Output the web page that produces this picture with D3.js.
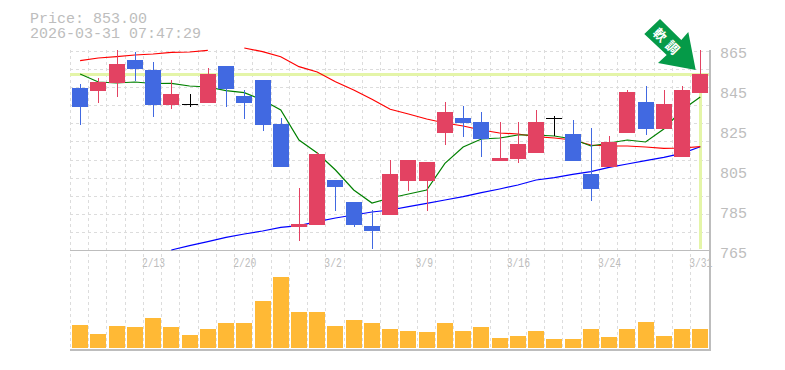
<!DOCTYPE html>
<html>
<head>
<meta charset="utf-8">
<script src="https://cdnjs.cloudflare.com/ajax/libs/d3/7.8.5/d3.min.js"></script>
<style>
  html, body { margin: 0; background: #fff; }
  text { font-family: "Liberation Mono", "DejaVu Sans Mono", monospace; fill: #bdbdbd; }
</style>
</head>
<body>
<svg id="chart" width="785" height="370"></svg>
<script>
const dates = ['2/6','2/9','2/10','2/12','2/13','2/16','2/17','2/18','2/19','2/20','2/24','2/25','2/26','2/27','3/2','3/3','3/4','3/5','3/6','3/9','3/10','3/11','3/12','3/13','3/16','3/17','3/18','3/19','3/23','3/24','3/25','3/26','3/27','3/30','3/31'];
const tickLabels = ['2/13','2/20','3/2','3/9','3/16','3/24','3/31'];
const priceTicks = [865,845,825,805,785,765];

const opens  = [846,844.5,848.5,860,855,837.5,838,838.5,857,842,850,828,776.5,777.5,800,789,777,782.5,799.5,799.5,823.5,831,829,809.5,810.5,813.5,831,823,803,806.5,823.5,839,825.5,811.5,843.5];
const closes = [836.5,849,858,855.5,837.5,843,838,853,845.5,838.5,827.5,806.5,778,813,796.5,777.5,774.5,803,810,809,834,828.5,820.5,811,818,829,831,809.5,795.5,819,844,825.5,838,845,853];
const highs  = [848,851,865,864,859,850,843,856,857,845,850,831,796,814,800,789,785,810,810,809,839,837,834,829,829,835,832,830,826,822,845,847,845,847,865];
const lows   = [827.5,838.5,841.5,849.5,831.5,835.5,836.5,838.5,836.5,830.5,824.5,806.5,769.5,777.5,784.5,776.5,765.5,782.5,794.5,784.5,817.5,821.5,811.5,809.5,808.5,813.5,822,809.5,789.5,806.5,823.5,822.5,825.5,811.5,843.5];
const volumes = [23,14,22,21,30,21,13,19,25,25,47,71,36,36,22,28,25,19,17,16,25,17,21,10,12,17,9,9,19,11,19,26,12,19,19];

const maShort = [853,849,848.5,849,848.25,848.35,847,846.5,844.65,843.65,840,835,820,813.5,805,795,788.5,791,793,795,808.35,816.5,820.5,821,822.5,822.5,822,820.5,817,818.5,820,819,825.5,835,841.5];
const maMid = [859.65,861,861.65,862.5,863,863.85,864,864.85,null,866,864.15,861.65,856.65,854,849.15,845,840.35,835.35,833,830.5,828.5,827,825,823.5,823,821.65,821,820,817.5,817,817,816.5,815.85,816,816.65];
const maLong = [null,null,null,null,null,765,767.15,769.15,771.35,773,774.5,776.35,777.15,779.15,781,782.5,784,785,786.65,788.35,790,791.65,793.65,795.5,797.5,800,801.15,802.85,804.15,806.35,808,809.65,811.35,813.35,816.65];

const lastPrice = 853;
const priceLabel = 'Price: 853.00';
const timeLabel = '2026-03-31 07:47:29';
const signalChars = ['軟','調'];

const RED = '#e34262', BLUE = '#4169e1', GRID = '#dcdcdc', AXIS = '#bdbdbd', HILITE = '#e4f5a8';

const svg = d3.select('#chart');
const idx = d3.range(dates.length);

const x = d3.scaleBand().domain(idx).range([71, 709.4]);
const cx = i => x(i) + x.bandwidth() / 2;
const y = d3.scaleLinear().domain([765, 865]).range([250, 50]);
const yVol = d3.scaleLinear().domain([0, 71]).range([348, 277]);

// grid
const grid = svg.append('g').attr('stroke', GRID).attr('stroke-width', 1).attr('stroke-dasharray', '3,3');
grid.selectAll('.v').data(idx).enter().append('line')
  .attr('x1', d => Math.round(x(d)) - 0.5).attr('x2', d => Math.round(x(d)) - 0.5)
  .attr('y1', 50).attr('y2', 350);
grid.selectAll('.h').data(d3.range(0, 11)).enter().append('line')
  .attr('x1', 70).attr('x2', 710)
  .attr('y1', d => Math.round(50.5 + d * 200 / 11) + 0.5).attr('y2', d => Math.round(50.5 + d * 200 / 11) + 0.5);

// current price highlight
svg.append('line').attr('x1', 70).attr('x2', 710).attr('y1', y(lastPrice) + 0.5).attr('y2', y(lastPrice) + 0.5)
  .attr('stroke', HILITE).attr('stroke-width', 3);
svg.append('line').attr('x1', Math.round(cx(34)) + 0.5).attr('x2', Math.round(cx(34)) + 0.5).attr('y1', y(lastPrice)).attr('y2', 249)
  .attr('stroke', HILITE).attr('stroke-width', 3);

// frame
const frame = svg.append('g').attr('stroke', AXIS).attr('stroke-width', 1);
frame.append('line').attr('x1', 70).attr('x2', 710).attr('y1', 250.5).attr('y2', 250.5);
frame.append('line').attr('x1', 70).attr('x2', 711).attr('y1', 350).attr('y2', 350).attr('stroke-width', 2);
frame.append('line').attr('x1', 710).attr('x2', 710).attr('y1', 50).attr('y2', 351).attr('stroke-width', 2);

// volume
svg.append('g').selectAll('rect').data(volumes).enter().append('rect')
  .attr('x', (d, i) => Math.round(cx(i) - 8)).attr('width', 16)
  .attr('y', d => yVol(d)).attr('height', d => yVol(0) - yVol(d))
  .attr('fill', '#ffb935');

// moving averages
const maLine = d3.line().defined(d => d !== null).x((d, i) => cx(i)).y(d => y(d));
[[maLong, '#0000ff'], [maMid, '#ff0000'], [maShort, '#008000']].forEach(([values, color]) => {
  svg.append('path').attr('d', maLine(values)).attr('fill', 'none').attr('stroke', color).attr('stroke-width', 1.2);
});

// candles
const candleColor = i => closes[i] === opens[i] ? '#000' : (closes[i] > opens[i] ? RED : BLUE);
const candles = svg.append('g').selectAll('g').data(idx).enter().append('g');
candles.append('line')
  .attr('x1', i => Math.round(cx(i)) + 0.5).attr('x2', i => Math.round(cx(i)) + 0.5)
  .attr('y1', i => y(highs[i])).attr('y2', i => y(lows[i]))
  .attr('stroke', candleColor).attr('stroke-width', 1);
candles.append('rect')
  .attr('x', i => Math.round(cx(i) - 8)).attr('width', 16)
  .attr('y', i => y(Math.max(opens[i], closes[i])))
  .attr('height', i => Math.max(1, Math.abs(y(opens[i]) - y(closes[i]))))
  .attr('fill', candleColor);

// labels
svg.append('text').attr('x', 30).attr('y', 23).attr('font-size', 15).text(priceLabel);
svg.append('text').attr('x', 30).attr('y', 38).attr('font-size', 15).text(timeLabel);
svg.append('g').selectAll('text').data(priceTicks).enter().append('text')
  .attr('x', 720).attr('y', d => y(d) + 8).attr('font-size', 15).text(d => d);
svg.append('g').selectAll('text').data(tickLabels).enter().append('text')
  .attr('x', d => x(dates.indexOf(d)) - 2).attr('y', 267).attr('font-size', 13)
  .attr('textLength', d => d.length * 5.8).attr('lengthAdjust', 'spacingAndGlyphs')
  .text(d => d);

// signal arrow
svg.append('path')
  .attr('d', d3.line().curve(d3.curveLinearClosed)([[660,19],[681.3,40],[688.3,32],[695.7,70],[658,63],[666.7,55],[644.3,34]]))
  .attr('fill', '#059a48');
svg.append('g').selectAll('text').data(signalChars).enter().append('text')
  .attr('transform', (d, i) => `translate(${660 + i * 12.5},${35 + i * 12.5}) rotate(45)`)
  .attr('text-anchor', 'middle').attr('dy', '0.36em').attr('font-size', 13)
  .style('fill', '#fff').style('font-family', '"Noto Sans CJK JP"').style('font-weight', 700)
  .text(d => d);
</script>
</body>
</html>
